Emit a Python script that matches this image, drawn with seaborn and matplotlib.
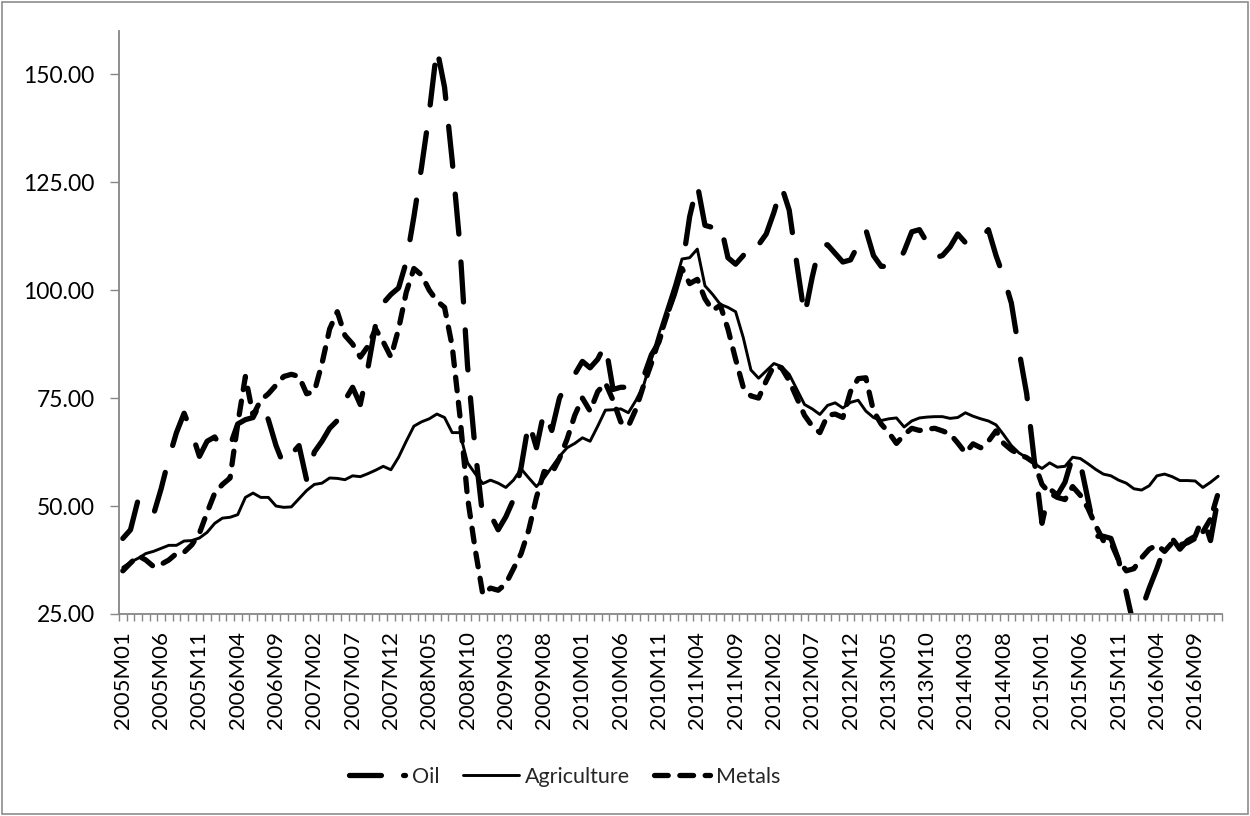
import numpy as np
import matplotlib
matplotlib.use("Agg")
import matplotlib.pyplot as plt
from matplotlib.lines import Line2D
from matplotlib.patches import Rectangle
from matplotlib.ticker import FormatStrFormatter
import seaborn as sns

# ─────────────────────────────────────────────────────────────
# Data: monthly commodity price series, 2005M01 - 2016M12
# ─────────────────────────────────────────────────────────────
months = [f"{yr}M{mo:02d}" for yr in range(2005, 2017) for mo in range(1, 13)]

oil = [
    42.5, 44.5, 51.5, 49.5, 48.0, 54.0, 61.0, 67.0, 71.5, 67.0, 61.5, 65.0,      # 2005
    66.0, 63.0, 64.0, 69.0, 70.0, 70.5, 74.0, 70.0, 64.0, 59.5, 62.0, 64.0,      # 2006
    56.0, 62.5, 65.0, 68.0, 69.8, 74.5, 77.5, 73.5, 82.0, 92.0, 97.0, 99.0,      # 2007
    100.5, 106.5, 117.0, 128.5, 141.0, 156.0, 147.0, 130.0, 110.5, 82.5, 63.0, 47.3,  # 2008
    48.0, 44.5, 47.5, 51.5, 59.0, 69.5, 63.5, 72.0, 67.5, 75.0, 78.5, 80.5,      # 2009
    83.5, 82.0, 84.0, 87.5, 77.0, 77.5, 77.5, 79.5, 80.0, 85.0, 88.0, 94.0,      # 2010
    99.0, 105.0, 117.0, 124.5, 115.0, 114.5, 115.5, 107.5, 106.0, 108.0, 111.5, 110.5,  # 2011
    113.0, 118.0, 124.0, 118.5, 106.0, 94.0, 103.0, 110.5, 110.5, 108.5, 106.5, 107.0,  # 2012
    110.5, 114.0, 108.0, 105.5, 105.5, 105.5, 109.0, 113.5, 114.0, 111.0, 107.5, 108.0,  # 2013
    110.0, 113.0, 111.0, 110.5, 112.0, 114.0, 108.0, 103.0, 97.0, 86.0, 76.0, 60.5,  # 2014
    46.0, 54.0, 52.5, 55.5, 61.5, 60.0, 51.5, 43.0, 43.0, 42.5, 37.5, 30.0,      # 2015
    22.0, 26.0, 31.0, 35.5, 40.5, 42.5, 40.0, 42.0, 43.0, 47.5, 42.0, 52.0,      # 2016
]

agriculture = [
    35.8, 37.0, 37.9, 39.0, 39.5, 40.2, 40.9, 40.9, 41.9, 42.0, 42.6, 43.9,
    46.0, 47.2, 47.4, 48.0, 52.0, 53.0, 52.0, 52.0, 50.0, 49.7, 49.8, 51.7,
    53.6, 55.0, 55.3, 56.5, 56.4, 56.1, 57.0, 56.8, 57.5, 58.3, 59.2, 58.4,
    61.3, 65.0, 68.5, 69.5, 70.2, 71.3, 70.5, 67.0, 67.0, 60.0, 57.5, 55.2,
    56.0, 55.3, 54.3, 56.0, 58.6, 56.5, 54.5, 56.5, 59.0, 61.5, 63.5, 64.5,
    65.8, 65.0, 68.5, 72.2, 72.3, 72.5, 71.6, 74.5, 78.0, 84.0, 90.0, 95.5,
    101.0, 107.2, 107.5, 109.5, 101.0, 99.0, 96.7, 96.0, 95.0, 89.0, 81.5, 79.6,
    81.3, 83.0, 82.3, 80.5, 77.0, 73.5, 72.5, 71.2, 73.3, 73.9, 72.7, 74.0,
    74.5, 72.0, 70.5, 69.8, 70.2, 70.4, 68.3, 69.7, 70.4, 70.6, 70.7, 70.7,
    70.3, 70.5, 71.6, 70.8, 70.2, 69.7, 68.8, 66.5, 64.0, 62.3, 61.2, 59.8,
    58.7, 60.0, 59.0, 59.2, 61.3, 61.0, 59.8, 58.5, 57.4, 57.0, 56.0, 55.3,
    54.0, 53.7, 54.7, 57.0, 57.4, 56.8, 55.9, 55.9, 55.8, 54.3, 55.5, 56.9,
]

metals = [
    35.0, 36.8, 38.5, 37.5, 36.0, 36.5, 37.5, 39.0, 39.3, 41.0, 43.7, 48.5,
    53.0, 55.0, 56.5, 69.0, 80.0, 71.0, 74.5, 76.0, 78.0, 80.0, 80.5, 80.0,
    76.0, 76.5, 83.0, 91.0, 95.0, 89.5, 87.5, 84.5, 87.0, 91.0, 88.0, 84.5,
    91.0, 99.5, 105.0, 103.5, 100.0, 97.5, 96.0, 87.0, 71.0, 52.0, 40.0, 29.5,
    31.0, 30.5, 32.0, 35.5, 39.0, 44.5, 52.0, 58.0, 57.5, 61.0, 65.5, 71.0,
    75.0, 72.0, 76.5, 78.5, 74.5, 69.5, 68.5, 72.5, 78.0, 83.0, 88.5, 94.0,
    99.5, 105.0, 101.5, 102.5, 98.0, 95.3, 96.5, 91.0, 84.0, 77.5, 75.5, 75.0,
    79.0, 82.5, 82.0, 79.0, 75.0, 71.0, 68.5, 67.0, 71.0, 71.3, 70.5, 76.5,
    79.5, 79.7, 72.0, 69.0, 67.0, 64.5, 66.5, 68.0, 67.5, 67.8, 68.0, 67.4,
    66.7, 64.6, 62.3, 64.4, 63.5, 65.0, 67.4, 64.5, 63.0, 62.0, 61.2, 60.0,
    55.0, 53.0, 52.0, 51.5, 54.5, 52.5, 49.5, 45.5, 42.0, 41.5, 37.5, 35.0,
    35.5, 38.0, 40.0, 41.0, 39.5, 41.5, 41.0, 41.5, 42.5, 44.0, 47.0, 53.0,
]

y_ticks = [25, 50, 75, 100, 125, 150]
LABEL_STEP = 5

# ─────────────────────────────────────────────────────────────
# Style
# ─────────────────────────────────────────────────────────────
sns.set_theme(style="white")
plt.rcParams["font.family"] = ["Lato", "DejaVu Sans"]
GRAY = "#868686"

OIL_LS = (0, (7.6, 5.3))      # long dash
METAL_LS = (0, (2.6, 2.2))    # short dash

fig = plt.figure(figsize=(12.5, 8.16), dpi=100)
ax = fig.add_axes([119 / 1250, 1 - 614 / 816, (1222 - 119) / 1250, (614 - 31) / 816])

x = np.arange(len(months))

sns.lineplot(x=x, y=oil, ax=ax, color="black", linewidth=3.8,
             linestyle=OIL_LS, dash_capstyle="round",
             label="Oil", legend=False)
sns.lineplot(x=x, y=agriculture, ax=ax, color="black", linewidth=2.1,
             solid_joinstyle="round", label="Agriculture", legend=False)
sns.lineplot(x=x, y=metals, ax=ax, color="black", linewidth=3.8,
             linestyle=METAL_LS, dash_capstyle="round",
             label="Metals", legend=False)

# --- axes ------------------------------------------------------
ax.set_xlim(-0.5, len(months) - 0.5)
ax.set_ylim(25, 160)
ax.set_xlabel("")
ax.set_ylabel("")

ax.set_yticks(y_ticks)
ax.yaxis.set_major_formatter(FormatStrFormatter("%.2f"))

ax.set_xticks(x[::LABEL_STEP])
ax.set_xticklabels(months[::LABEL_STEP], rotation=90)
ax.set_xticks(np.arange(-0.5, len(months), 1), minor=True)

ax.tick_params(axis="y", labelsize=16.5, labelcolor="black")
ax.tick_params(axis="x", labelsize=16, labelcolor="black")
ax.tick_params(axis="y", left=True, length=6.5, width=1, color=GRAY,
               direction="out", pad=11)
ax.tick_params(axis="x", which="major", bottom=True, length=0, pad=12)
ax.tick_params(axis="x", which="minor", bottom=True, length=5, width=1,
               color=GRAY, direction="out")

for side in ["top", "right"]:
    ax.spines[side].set_visible(False)
for side in ["left", "bottom"]:
    ax.spines[side].set_color(GRAY)
    ax.spines[side].set_linewidth(1.3)

# --- legend -----------------------------------------------------
# the oil swatch is cut after one dash so the next one shows as a dot
handles, labels = ax.get_legend_handles_labels()
handles[0] = Line2D([], [], color="black", linewidth=3.8,
                    linestyle=(0, (6.05, 4.2)), dash_capstyle="round")
fig.legend(handles, labels, loc="center", bbox_to_anchor=(0.452, 0.048),
           ncol=3, frameon=False, fontsize=15.5, handlelength=2.6,
           handletextpad=0.3, columnspacing=1.1)

# --- chart border -----------------------------------------------
fig.patches.append(Rectangle((0.0015, 0.002), 0.997, 0.9955,
                             transform=fig.transFigure, fill=False,
                             edgecolor="#8c8c8c", linewidth=1.2))

fig.savefig("out.png", dpi=100)
plt.close(fig)
